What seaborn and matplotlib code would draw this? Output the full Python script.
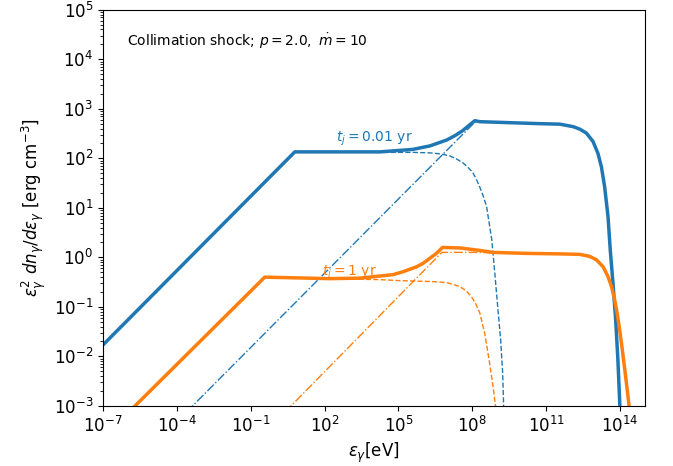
import numpy as np
import seaborn as sns
import matplotlib
import matplotlib.pyplot as plt
from matplotlib.ticker import NullLocator, LogLocator

matplotlib.use("Agg")

# log10 values (energy in eV, eps^2 dn/deps in erg cm^-3)
blue_solid_x = [-7.0, 0.79, 3.0, 4.24, 5.58, 6.27, 6.96, 7.30, 7.61, 7.85, 8.10, 8.30,
                10.74, 11.55, 12.09, 12.36, 12.63, 12.90, 13.10, 13.24, 13.37, 13.51,
                13.60, 13.71, 13.82, 13.91, 13.99, 14.05]
blue_solid_y = [-1.77, 2.13, 2.13, 2.13, 2.18, 2.25, 2.37, 2.46, 2.56, 2.66, 2.76, 2.74,
                2.70, 2.69, 2.64, 2.59, 2.51, 2.34, 2.10, 1.83, 1.43, 0.82,
                0.15, -0.52, -1.26, -2.07, -3.0, -3.6]

blue_dash_x = [-7.0, 0.79, 4.24, 5.58, 6.27, 6.70, 7.08, 7.35, 7.61, 7.82, 8.02, 8.16,
               8.30, 8.44, 8.58, 8.79, 8.91, 9.03, 9.15, 9.23, 9.27, 9.32]
blue_dash_y = [-1.77, 2.13, 2.12, 2.12, 2.11, 2.09, 2.05, 1.99, 1.91, 1.82, 1.71, 1.58,
               1.42, 1.24, 1.02, 0.35, -0.31, -1.0, -1.67, -2.33, -3.0, -3.6]

blue_dd_x = [-3.6, 8.12, 8.30, 10.74, 11.55, 12.09, 12.36, 12.63, 12.90, 13.10, 13.24,
             13.37, 13.51, 13.60, 13.71, 13.82, 13.91, 13.99, 14.05]
blue_dd_y = [-3.12, 2.74, 2.74, 2.70, 2.69, 2.64, 2.59, 2.51, 2.34, 2.10, 1.83,
             1.43, 0.82, 0.15, -0.52, -1.26, -2.07, -3.0, -3.6]

orange_solid_x = [-6.0, -0.43, 2.2, 3.43, 4.77, 5.19, 5.74, 6.00, 6.27, 6.54, 6.79, 7.49,
                  8.30, 8.83, 10.2, 11.55, 12.36, 12.76, 13.04, 13.31, 13.51, 13.65,
                  13.78, 13.88, 13.98, 14.09, 14.19, 14.29, 14.36, 14.42]
orange_solid_y = [-3.15, -0.40, -0.43, -0.42, -0.35, -0.29, -0.19, -0.12, -0.02, 0.08,
                  0.20, 0.19, 0.14, 0.10, 0.08, 0.07, 0.06, 0.02, -0.05, -0.19, -0.39,
                  -0.59, -0.86, -1.13, -1.46, -1.87, -2.27, -2.68, -2.98, -3.3]

orange_dash_x = [-6.0, -0.43, 2.2, 4.24, 5.05, 6.39, 6.96, 7.49, 7.73, 7.96, 8.14, 8.30,
                 8.50, 8.68, 8.84, 8.94, 9.0]
orange_dash_y = [-3.15, -0.40, -0.43, -0.45, -0.47, -0.49, -0.51, -0.59, -0.67, -0.79,
                 -0.94, -1.12, -1.53, -2.07, -2.61, -3.0, -3.3]

orange_dd_x = [0.4, 6.76, 8.30, 8.83, 10.2, 11.55, 12.36, 12.76, 13.04, 13.31, 13.51,
               13.65, 13.78, 13.88, 13.98, 14.09, 14.19, 14.29, 14.36, 14.42]
orange_dd_y = [-3.12, 0.10, 0.10, 0.09, 0.08, 0.07, 0.06, 0.02, -0.05, -0.19, -0.39,
               -0.59, -0.86, -1.13, -1.46, -1.87, -2.27, -2.68, -2.98, -3.3]

BLUE = "#1f77b4"
ORANGE = "#ff7f0e"

sns.set_style("ticks", {"axes.edgecolor": "black", "text.color": "black",
                        "xtick.color": "black", "ytick.color": "black",
                        "axes.labelcolor": "black"})
plt.rcParams["font.family"] = ["DejaVu Sans"]

fig = plt.figure(figsize=(6.73, 4.66), dpi=100)
ax = fig.add_axes([0.153, 0.129, 0.805, 0.85])

series = [
    (blue_dash_x, blue_dash_y, BLUE, 1.0, "--"),
    (blue_dd_x, blue_dd_y, BLUE, 1.0, "-."),
    (blue_solid_x, blue_solid_y, BLUE, 2.5, "-"),
    (orange_dash_x, orange_dash_y, ORANGE, 1.0, "--"),
    (orange_dd_x, orange_dd_y, ORANGE, 1.0, "-."),
    (orange_solid_x, orange_solid_y, ORANGE, 2.5, "-"),
]
for xs, ys, col, lw, ls in series:
    sns.lineplot(x=10 ** np.array(xs), y=10 ** np.array(ys), ax=ax, color=col,
                 lw=lw, ls=ls, estimator=None, sort=False)

ax.set_xscale("log")
ax.set_yscale("log")
ax.set_xlim(1e-7, 1e15)
ax.set_ylim(1e-3, 1e5)
ax.set_xticks([1e-7, 1e-4, 1e-1, 1e2, 1e5, 1e8, 1e11, 1e14])
ax.xaxis.set_minor_locator(NullLocator())
ax.yaxis.set_minor_locator(LogLocator(base=10, subs=np.arange(2, 10), numticks=100))
ax.tick_params(labelsize=12)

ax.set_xlabel(r"$\varepsilon_\gamma$[eV]", fontsize=12)
ax.set_ylabel(r"$\varepsilon_\gamma^2\ dn_\gamma/d\varepsilon_\gamma$ [erg cm$^{-3}$]",
              fontsize=12)

ax.text(0.044, 0.92, r"Collimation shock; $p=2.0,\ \dot{m}=10$",
        transform=ax.transAxes, va="center", fontsize=10)
ax.text(10 ** 2.46, 10 ** 2.39, r"$t_j=0.01$ yr", color=BLUE, va="center", fontsize=10)
ax.text(10 ** 1.89, 10 ** -0.31, r"$t_j=1$ yr", color=ORANGE, va="center", fontsize=10)

fig.savefig("out.png", dpi=100)
plt.close(fig)
